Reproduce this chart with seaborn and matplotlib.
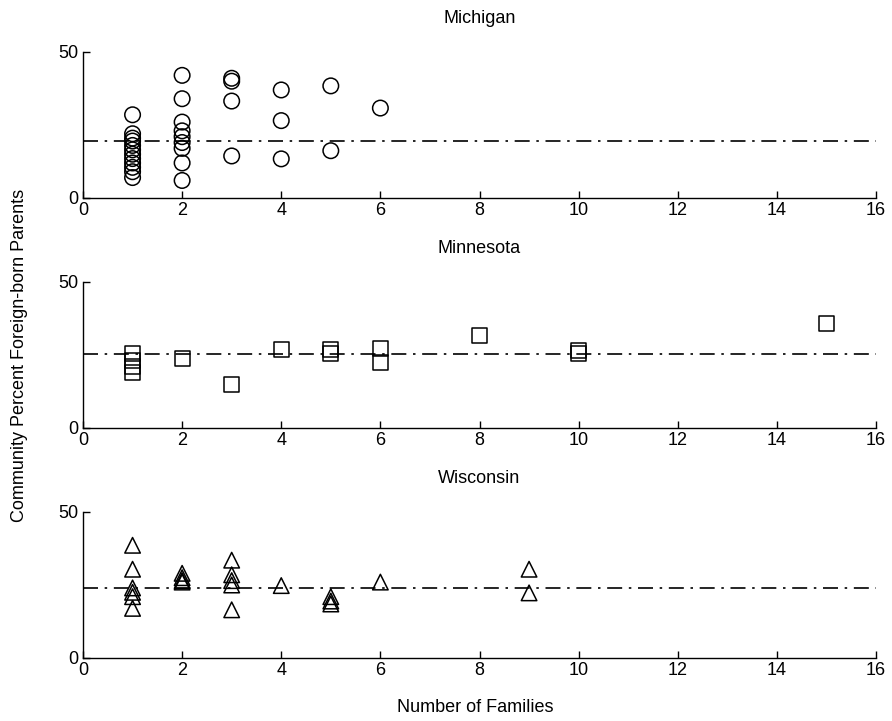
import matplotlib
matplotlib.use("Agg")
import matplotlib.pyplot as plt
import seaborn as sns
import pandas as pd

# ---- data ----
states = ["Michigan", "Minnesota", "Wisconsin"]

mi_families = [1]*12 + [2]*9 + [3]*4 + [4]*3 + [5]*2 + [6]
mi_percent = [28.5, 22, 20.5, 19.5, 18, 16.5, 15, 13.5, 12, 10.5, 9, 7,
              42, 34, 26, 23, 21, 19, 17, 12, 6,
              41, 40, 33.2, 14.4,
              37, 26.5, 13.4,
              38.4, 16.2,
              30.8]
mi_mean = 19.6

mn_families = [1, 1, 1, 1, 2, 3, 4, 5, 5, 6, 6, 8, 10, 10, 15]
mn_percent = [25.5, 23, 21, 19, 23.7, 14.8, 26.8, 27, 25.5, 27.3, 22.3,
              31.6, 26.5, 25.5, 35.8]
mn_mean = 25.5

wi_families = [1]*6 + [2]*4 + [3]*5 + [4] + [5]*3 + [6] + [9]*2
wi_percent = [38.6, 30.4, 24, 22.5, 21, 17,
              29, 27.5, 26.5, 26,
              33.5, 28.5, 26.5, 25, 16.5,
              24.8,
              21, 19.5, 18.5,
              26,
              30.4, 22.3]
wi_mean = 24.1

x_ticks = list(range(0, 17, 2))
y_ticks = [0, 50]

# ---- plotting ----
sns.set_style("white")
plt.rcParams["font.family"] = ["Liberation Sans", "DejaVu Sans"]
plt.rcParams["font.size"] = 13
plt.rcParams["text.color"] = "black"
plt.rcParams["axes.labelcolor"] = "black"

fig = plt.figure(figsize=(8.92, 7.21), dpi=100)
left, width, height = 83/892, 793/892, 146/721
bottoms = [1 - 198/721, 1 - 428/721, 1 - 658/721]

panels = [
    (mi_families, mi_percent, mi_mean, "o", 125),
    (mn_families, mn_percent, mn_mean, "s", 115),
    (wi_families, wi_percent, wi_mean, "^", 125),
]

for state, bottom, (xs, ys, mean, mk, sz) in zip(states, bottoms, panels):
    ax = fig.add_axes([left, bottom, width, height])
    df = pd.DataFrame({"families": xs, "percent": ys})
    sns.scatterplot(data=df, x="families", y="percent", ax=ax, marker=mk, s=sz,
                    facecolor="none", edgecolor="black", linewidth=1.1, zorder=3)
    ax.axhline(mean, color="black", lw=1.2, linestyle=(0, (9, 4, 1.5, 4)), zorder=2)
    ax.set_xlim(0, 16)
    ax.set_ylim(0, 50)
    ax.set_xticks(x_ticks)
    ax.set_yticks(y_ticks)
    ax.set_xlabel("")
    ax.set_ylabel("")
    ax.set_title(state, fontsize=13, pad=21, color="black")
    for s in ["top", "right"]:
        ax.spines[s].set_visible(False)
    for s in ["left", "bottom"]:
        ax.spines[s].set_color("black")
        ax.spines[s].set_linewidth(1.0)
    ax.tick_params(direction="in", length=5, width=1, colors="black",
                   labelsize=13, pad=3, left=True, bottom=True)

fig.text(20/892, 1 - 355/721, "Community Percent Foreign-born Parents",
         rotation=90, ha="center", va="center", fontsize=13)
fig.text(475/892, 1 - 707/721, "Number of Families",
         ha="center", va="center", fontsize=13)

fig.savefig("out.png", dpi=100)
